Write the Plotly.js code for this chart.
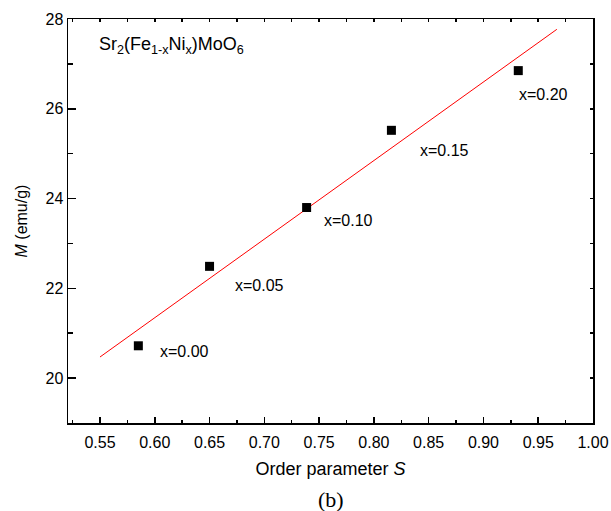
<!DOCTYPE html>
<html>
<head>
<meta charset="utf-8">
<script src="https://cdn.plot.ly/plotly-3.0.1.min.js"></script>
<style>html,body{margin:0;padding:0;background:#fff;}#chart{width:611px;height:511px;}</style>
</head>
<body>
<div id="chart"></div>
<script>
// Data
const orderS = [0.585, 0.650, 0.7386, 0.816, 0.9318];
const magM = [20.72, 22.49, 23.80, 25.52, 26.85];
const labels = ["x=0.00", "x=0.05", "x=0.10", "x=0.15", "x=0.20"];
const labelX = [0.6033, 0.6713, 0.7530, 0.8407, 0.9310];
const labelY = [20.60, 22.07, 23.51, 25.06, 26.32];
const fitX = [0.55, 0.967];
const fitY = [20.47, 27.77];
const xTickVals = [0.55, 0.60, 0.65, 0.70, 0.75, 0.80, 0.85, 0.90, 0.95, 1.00];
const xTickText = ["0.55", "0.60", "0.65", "0.70", "0.75", "0.80", "0.85", "0.90", "0.95", "1.00"];
const yTickVals = [20, 22, 24, 26, 28];

const font = "Liberation Sans, Arial, Helvetica, sans-serif";
const xRange = [0.5208, 1.0];
const yRange = [19.0, 28.0];

const traces = [
  {x: fitX, y: fitY, mode: "lines", type: "scatter", line: {color: "#ff0000", width: 1}, hoverinfo: "skip"},
  {x: orderS, y: magM, mode: "markers", type: "scatter", marker: {symbol: "square", size: 9, color: "#000"}},
  {x: [], y: [], xaxis: "x2", yaxis: "y2", type: "scatter", mode: "markers"}
];

const annotations = labels.map((t, i) => ({
  x: labelX[i], y: labelY[i], xref: "x", yref: "y", text: t, showarrow: false,
  xanchor: "left", yanchor: "middle", font: {family: font, size: 16, color: "#000"}
}));
annotations.push({
  x: 0.547, y: 27.40, xref: "x", yref: "y", showarrow: false, xanchor: "left", yanchor: "middle",
  text: "Sr<sub>2</sub>(Fe<sub>1-x</sub>Ni<sub>x</sub>)MoO<sub>6</sub>",
  font: {family: font, size: 18, color: "#000"}
});
annotations.push({
  x: 0.5, y: -0.19, xref: "paper", yref: "paper", showarrow: false, xanchor: "center", yanchor: "middle",
  text: "(b)", font: {family: "Liberation Serif, Times New Roman, serif", size: 22, color: "#000"}
});

const layout = {
  width: 611, height: 511,
  margin: {l: 68, r: 18.3, t: 19, b: 88.3},
  paper_bgcolor: "#fff", plot_bgcolor: "#fff",
  showlegend: false,
  font: {family: font, size: 16, color: "#000"},
  xaxis: {
    range: xRange, tickvals: xTickVals, ticktext: xTickText,
    ticks: "inside", ticklen: 6, tickwidth: 1.5, tickcolor: "#000",
    minor: {dtick: 0.025, tick0: 0.5, ticks: "inside", ticklen: 3, tickwidth: 1.5, tickcolor: "#000"},
    showline: true, linecolor: "#000", linewidth: 1.5, showgrid: false, zeroline: false,
    tickfont: {family: font, size: 16}, ticklabelstandoff: 4,
    title: {text: "Order parameter <i>S</i>", font: {family: font, size: 18}, standoff: 12}
  },
  yaxis: {
    range: yRange, tickvals: yTickVals,
    ticks: "inside", ticklen: 8, tickwidth: 1.5, tickcolor: "#000",
    minor: {dtick: 1, tick0: 19, ticks: "inside", ticklen: 5, tickwidth: 1.5, tickcolor: "#000"},
    showline: true, linecolor: "#000", linewidth: 1.5, showgrid: false, zeroline: false,
    tickfont: {family: font, size: 16},
    title: {text: "<i>M</i> (emu/g)", font: {family: font, size: 16}, standoff: 14}
  },
  xaxis2: {
    overlaying: "x", side: "top", anchor: "y2", range: xRange, dtick: 0.025, tick0: 0.5,
    ticks: "inside", ticklen: 3, tickwidth: 1.5, tickcolor: "#000", showticklabels: false,
    showline: true, linecolor: "#000", linewidth: 1.5, showgrid: false, zeroline: false
  },
  yaxis2: {
    overlaying: "y", side: "right", anchor: "x2", range: yRange, dtick: 1, tick0: 19,
    ticks: "inside", ticklen: 3, tickwidth: 1.5, tickcolor: "#000", showticklabels: false,
    showline: true, linecolor: "#000", linewidth: 1.5, showgrid: false, zeroline: false
  },
  annotations: annotations
};

Plotly.newPlot("chart", traces, layout, {displayModeBar: false, staticPlot: true});
</script>
</body>
</html>
